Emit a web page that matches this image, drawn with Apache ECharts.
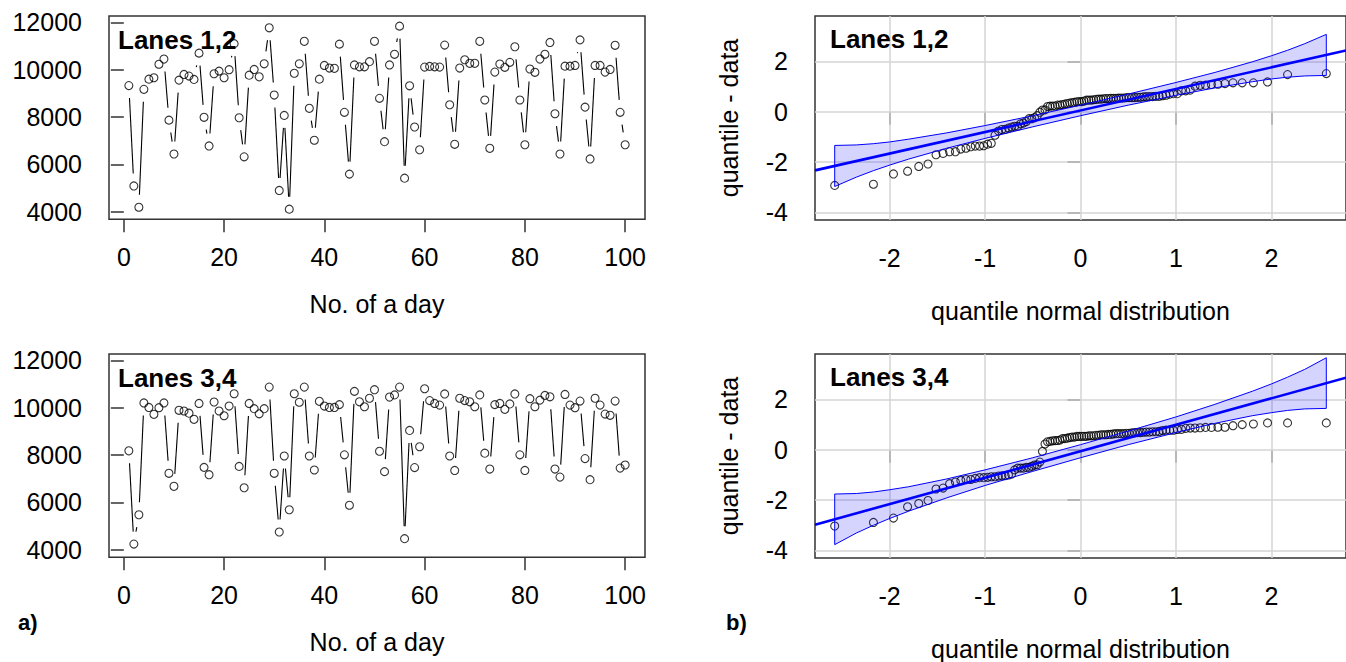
<!DOCTYPE html>
<html><head><meta charset="utf-8">
<script src="https://cdn.jsdelivr.net/npm/echarts@6/dist/echarts.min.js"></script>
<style>html,body{margin:0;padding:0;background:#fff;}#c{width:1346px;height:662px;}</style>
</head><body><div id="c"></div>
<script>
// ---- data ----
const days = [1,2,3,4,5,6,7,8,9,10,11,12,13,14,15,16,17,18,19,20,21,22,23,24,25,26,27,28,29,30,31,32,33,34,35,36,37,38,39,40,41,42,43,44,45,46,47,48,49,50,51,52,53,54,55,56,57,58,59,60,61,62,63,64,65,66,67,68,69,70,71,72,73,74,75,76,77,78,79,80,81,82,83,84,85,86,87,88,89,90,91,92,93,94,95,96,97,98,99,100];
const lanes12 = [9330,5090,4190,9170,9600,9660,10230,10450,7870,6440,
  9560,9800,9730,9590,10700,7990,6780,9830,9940,9660,
  10000,11100,7970,6320,9770,10010,9700,10250,11770,8930,
  4900,8070,4110,9850,10250,11200,8370,7020,9600,10180,
  10070,10060,11080,8200,5590,10200,10120,10120,10340,11200,
  8790,6960,10200,10650,11840,5420,9320,7580,6620,10110,
  10140,10120,10110,11040,8520,6850,10070,10420,10270,10270,
  11200,8720,6680,9900,10240,10100,10310,10970,8720,6830,
  10030,9890,10450,10650,11150,8140,6440,10150,10150,10180,
  11260,8420,6230,10180,10180,9900,10010,11030,8200,6830];
const lanes34 = [8180,4240,5480,10200,10010,9720,10000,10200,7230,6680,
  9890,9860,9770,9510,10180,7480,7170,10240,9860,9660,
  10070,10590,7520,6620,10180,9960,9740,9960,10870,7230,
  4750,7960,5690,10590,10230,10870,7960,7370,10270,10070,
  10010,10010,10130,8010,5880,10690,10250,10040,10400,10760,
  8160,7300,10450,10540,10870,4470,9040,7470,8350,10800,
  10300,10180,10110,10580,7960,7350,10400,10300,10250,10040,
  10540,8080,7410,10130,10180,9930,10160,10580,8010,7350,
  10380,10040,10320,10520,10460,7410,7070,10560,10110,10000,
  10280,7850,6960,10400,10110,9730,9680,10280,7450,7580];
const normQuantiles = [-2.576,-2.170,-1.960,-1.812,-1.695,-1.598,-1.514,-1.440,-1.372,-1.311,
  -1.254,-1.200,-1.150,-1.103,-1.058,-1.015,-0.974,-0.935,-0.896,-0.860,
  -0.824,-0.789,-0.755,-0.722,-0.690,-0.659,-0.628,-0.598,-0.568,-0.539,
  -0.510,-0.482,-0.454,-0.426,-0.399,-0.372,-0.345,-0.319,-0.292,-0.266,
  -0.240,-0.215,-0.189,-0.164,-0.138,-0.113,-0.088,-0.063,-0.038,-0.013,
  0.013,0.038,0.063,0.088,0.113,0.138,0.164,0.189,0.215,0.240,
  0.266,0.292,0.319,0.345,0.372,0.399,0.426,0.454,0.482,0.510,
  0.539,0.568,0.598,0.628,0.659,0.690,0.722,0.755,0.789,0.824,
  0.860,0.896,0.935,0.974,1.015,1.058,1.103,1.150,1.200,1.254,
  1.311,1.372,1.440,1.514,1.598,1.695,1.812,1.960,2.170,2.576];
const bandX    = [-2.576,-2.35,-2.17,-2.0,-1.8,-1.4,-1,-0.5,0,0.5,1,1.4,1.8,2.0,2.17,2.35,2.576];
const band12Lo = [-2.97,-2.60,-2.34,-2.12,-1.88,-1.45,-1.06,-0.60,-0.16,0.26,0.65,0.94,1.19,1.30,1.37,1.42,1.44];
const band12Hi = [-1.34,-1.32,-1.27,-1.20,-1.09,-0.84,-0.55,-0.16,0.26,0.70,1.16,1.55,1.98,2.22,2.44,2.70,3.07];
const band34Lo = [-3.77,-3.31,-3.00,-2.73,-2.44,-1.91,-1.42,-0.86,-0.32,0.20,0.68,1.04,1.35,1.47,1.56,1.62,1.64];
const band34Hi = [-1.76,-1.74,-1.68,-1.59,-1.47,-1.16,-0.80,-0.32,0.20,0.74,1.30,1.79,2.32,2.61,2.88,3.19,3.65];
const fitX  = [-2.7824, 2.7824];
const fit12 = [-2.33, 2.43];
const fit34 = [-2.98, 2.86];
const dayTicks = [0,20,40,60,80,100];
const countTicks = [4000,6000,8000,10000,12000];
const qqXTicks = [-2,-1,0,1,2];
const qqYTicks = [-4,-2,0,2];
const panelTitles = ['Lanes 1,2','Lanes 3,4'];

// ---- helpers ----
const FONT = 'Liberation Sans, Arial, Helvetica, sans-serif';
const tickStyle = {color:'#333', width:1.5};
function qqPoints(vals){
  const n = vals.length;
  const mean = vals.reduce((a,b)=>a+b,0)/n;
  const sd = Math.sqrt(vals.reduce((a,b)=>a+(b-mean)*(b-mean),0)/(n-1));
  const s = vals.slice().sort((a,b)=>a-b);
  return s.map((v,i)=>[normQuantiles[i], (v-mean)/sd]);
}
function bLine(ax, vals){
  return {type:'custom', xAxisIndex:ax, yAxisIndex:ax, silent:true, z:2,
    data: vals.map((v,i)=>[days[i], v, days[Math.min(i+1,vals.length-1)], vals[Math.min(i+1,vals.length-1)]]),
    encode:{x:[0,2], y:[1,3]},
    renderItem:(params, api)=>{
      const p1 = api.coord([api.value(0), api.value(1)]);
      const p2 = api.coord([api.value(2), api.value(3)]);
      const dx=p2[0]-p1[0], dy=p2[1]-p1[1], L=Math.hypot(dx,dy), g=12.5;
      if (L <= 2*g) return {type:'group', children:[]};
      const ux=dx/L, uy=dy/L;
      return {type:'line', shape:{x1:p1[0]+ux*g, y1:p1[1]+uy*g, x2:p2[0]-ux*g, y2:p2[1]-uy*g},
        style:{stroke:'#000', lineWidth:1.1}};
    }};
}
function circles(ax, pts, withGrid){
  const s = {type:'scatter', xAxisIndex:ax, yAxisIndex:ax, silent:true, z:3,
    data: pts, symbol:'circle', symbolSize:8,
    itemStyle:{color:'rgba(255,255,255,0)', borderColor:'#000', borderWidth:1.1}};
  if (withGrid) {
    s.markLine = {silent:true, z:1, symbol:['none','none'], label:{show:false},
      lineStyle:{color:'#d4d4d4', width:1.5, type:'solid'}, emphasis:{disabled:true},
      data: qqXTicks.map(x=>({xAxis:x})).concat(qqYTicks.map(y=>({yAxis:y})))};
  }
  return s;
}
function band(ax, lo, hi){
  return {type:'custom', xAxisIndex:ax, yAxisIndex:ax, silent:true, z:4,
    data: bandX.map((x,i)=>[x, lo[i], hi[i]]),
    encode:{x:0, y:[1,2]},
    renderItem:(params, api)=>{
      if (params.dataIndex !== 0) return {type:'group', children:[]};
      const pts = [];
      bandX.forEach((x,i)=>pts.push(api.coord([x, hi[i]])));
      for (let i=bandX.length-1;i>=0;i--) pts.push(api.coord([bandX[i], lo[i]]));
      return {type:'polygon', shape:{points:pts},
        style:{fill:'rgba(0,0,255,0.17)', stroke:'#0000ff', lineWidth:1}};
    }};
}
function fitLine(ax, ys){
  return {type:'line', xAxisIndex:ax, yAxisIndex:ax, silent:true, z:5, symbol:'none',
    data: fitX.map((x,i)=>[x, ys[i]]), lineStyle:{color:'#0000ff', width:2.6}};
}
function leftX(i){
  return {type:'value', gridIndex:i, min:-2.96, max:103.96,
    axisLine:{show:false}, splitLine:{show:false},
    axisTick:{show:true, inside:false, length:13, customValues:dayTicks, lineStyle:tickStyle},
    axisLabel:{customValues:dayTicks, fontSize:25, color:'#000', fontFamily:FONT, margin:25},
    name:'No. of a day', nameLocation:'middle', nameGap:72,
    nameTextStyle:{fontSize:25, color:'#000', fontFamily:FONT}};
}
function leftY(i){
  return {type:'value', gridIndex:i, min:3682, max:12268,
    axisLine:{show:false}, splitLine:{show:false},
    axisTick:{show:true, inside:false, length:13, customValues:countTicks, lineStyle:tickStyle},
    axisLabel:{customValues:countTicks, fontSize:25, color:'#000', fontFamily:FONT, margin:27, formatter:v=>String(v)}};
}
function rightX(i){
  return {type:'value', gridIndex:i, min:-2.7824, max:2.7824,
    axisLine:{show:false}, splitLine:{show:false},
    axisTick:{show:true, inside:false, length:13, customValues:qqXTicks, lineStyle:tickStyle},
    axisLabel:{customValues:qqXTicks, fontSize:25, color:'#000', fontFamily:FONT, margin:25},
    name:'quantile normal distribution', nameLocation:'middle', nameGap:78,
    nameTextStyle:{fontSize:25, color:'#000', fontFamily:FONT}};
}
function rightY(i){
  return {type:'value', gridIndex:i, min:-4.3, max:3.8,
    axisLine:{show:false}, splitLine:{show:false},
    axisTick:{show:true, inside:false, length:13, customValues:qqYTicks, lineStyle:tickStyle},
    axisLabel:{customValues:qqYTicks, fontSize:25, color:'#000', fontFamily:FONT, margin:27},
    name:'quantile - data', nameLocation:'middle', nameGap:74,
    nameTextStyle:{fontSize:25, color:'#000', fontFamily:FONT}};
}
const gridBox = {show:true, borderColor:'#333', borderWidth:1.5, backgroundColor:'transparent'};
function titleText(x, y, t){
  return {type:'text', x:x, y:y, z:10, silent:true,
    style:{text:t, font:'bold 26px '+FONT, fill:'#000', align:'left', verticalAlign:'middle'}};
}

const chart = echarts.init(document.getElementById('c'), null, {renderer:'svg'});
chart.setOption({
  animation:false,
  backgroundColor:'#fff',
  grid:[
    Object.assign({left:109, top:16, width:536, height:203.3}, gridBox),
    Object.assign({left:109, top:354, width:536, height:203.3}, gridBox),
    Object.assign({left:815, top:16, width:537.5, height:204}, gridBox),
    Object.assign({left:815, top:354, width:537.5, height:204}, gridBox)
  ],
  xAxis:[leftX(0), leftX(1), rightX(2), rightX(3)],
  yAxis:[leftY(0), leftY(1), rightY(2), rightY(3)],
  series:[
    bLine(0, lanes12), circles(0, lanes12.map((v,i)=>[days[i], v])),
    bLine(1, lanes34), circles(1, lanes34.map((v,i)=>[days[i], v])),
    band(2, band12Lo, band12Hi), circles(2, qqPoints(lanes12), true), fitLine(2, fit12),
    band(3, band34Lo, band34Hi), circles(3, qqPoints(lanes34), true), fitLine(3, fit34)
  ],
  graphic:[
    titleText(118, 40, panelTitles[0]),
    titleText(118, 378, panelTitles[1]),
    titleText(830, 39, panelTitles[0]),
    titleText(830, 377, panelTitles[1]),
    {type:'text', x:18, y:622, silent:true, style:{text:'a)', font:'bold 22px '+FONT, fill:'#000', verticalAlign:'middle'}},
    {type:'text', x:726, y:622, silent:true, style:{text:'b)', font:'bold 22px '+FONT, fill:'#000', verticalAlign:'middle'}}
  ]
});
</script>
</body></html>
